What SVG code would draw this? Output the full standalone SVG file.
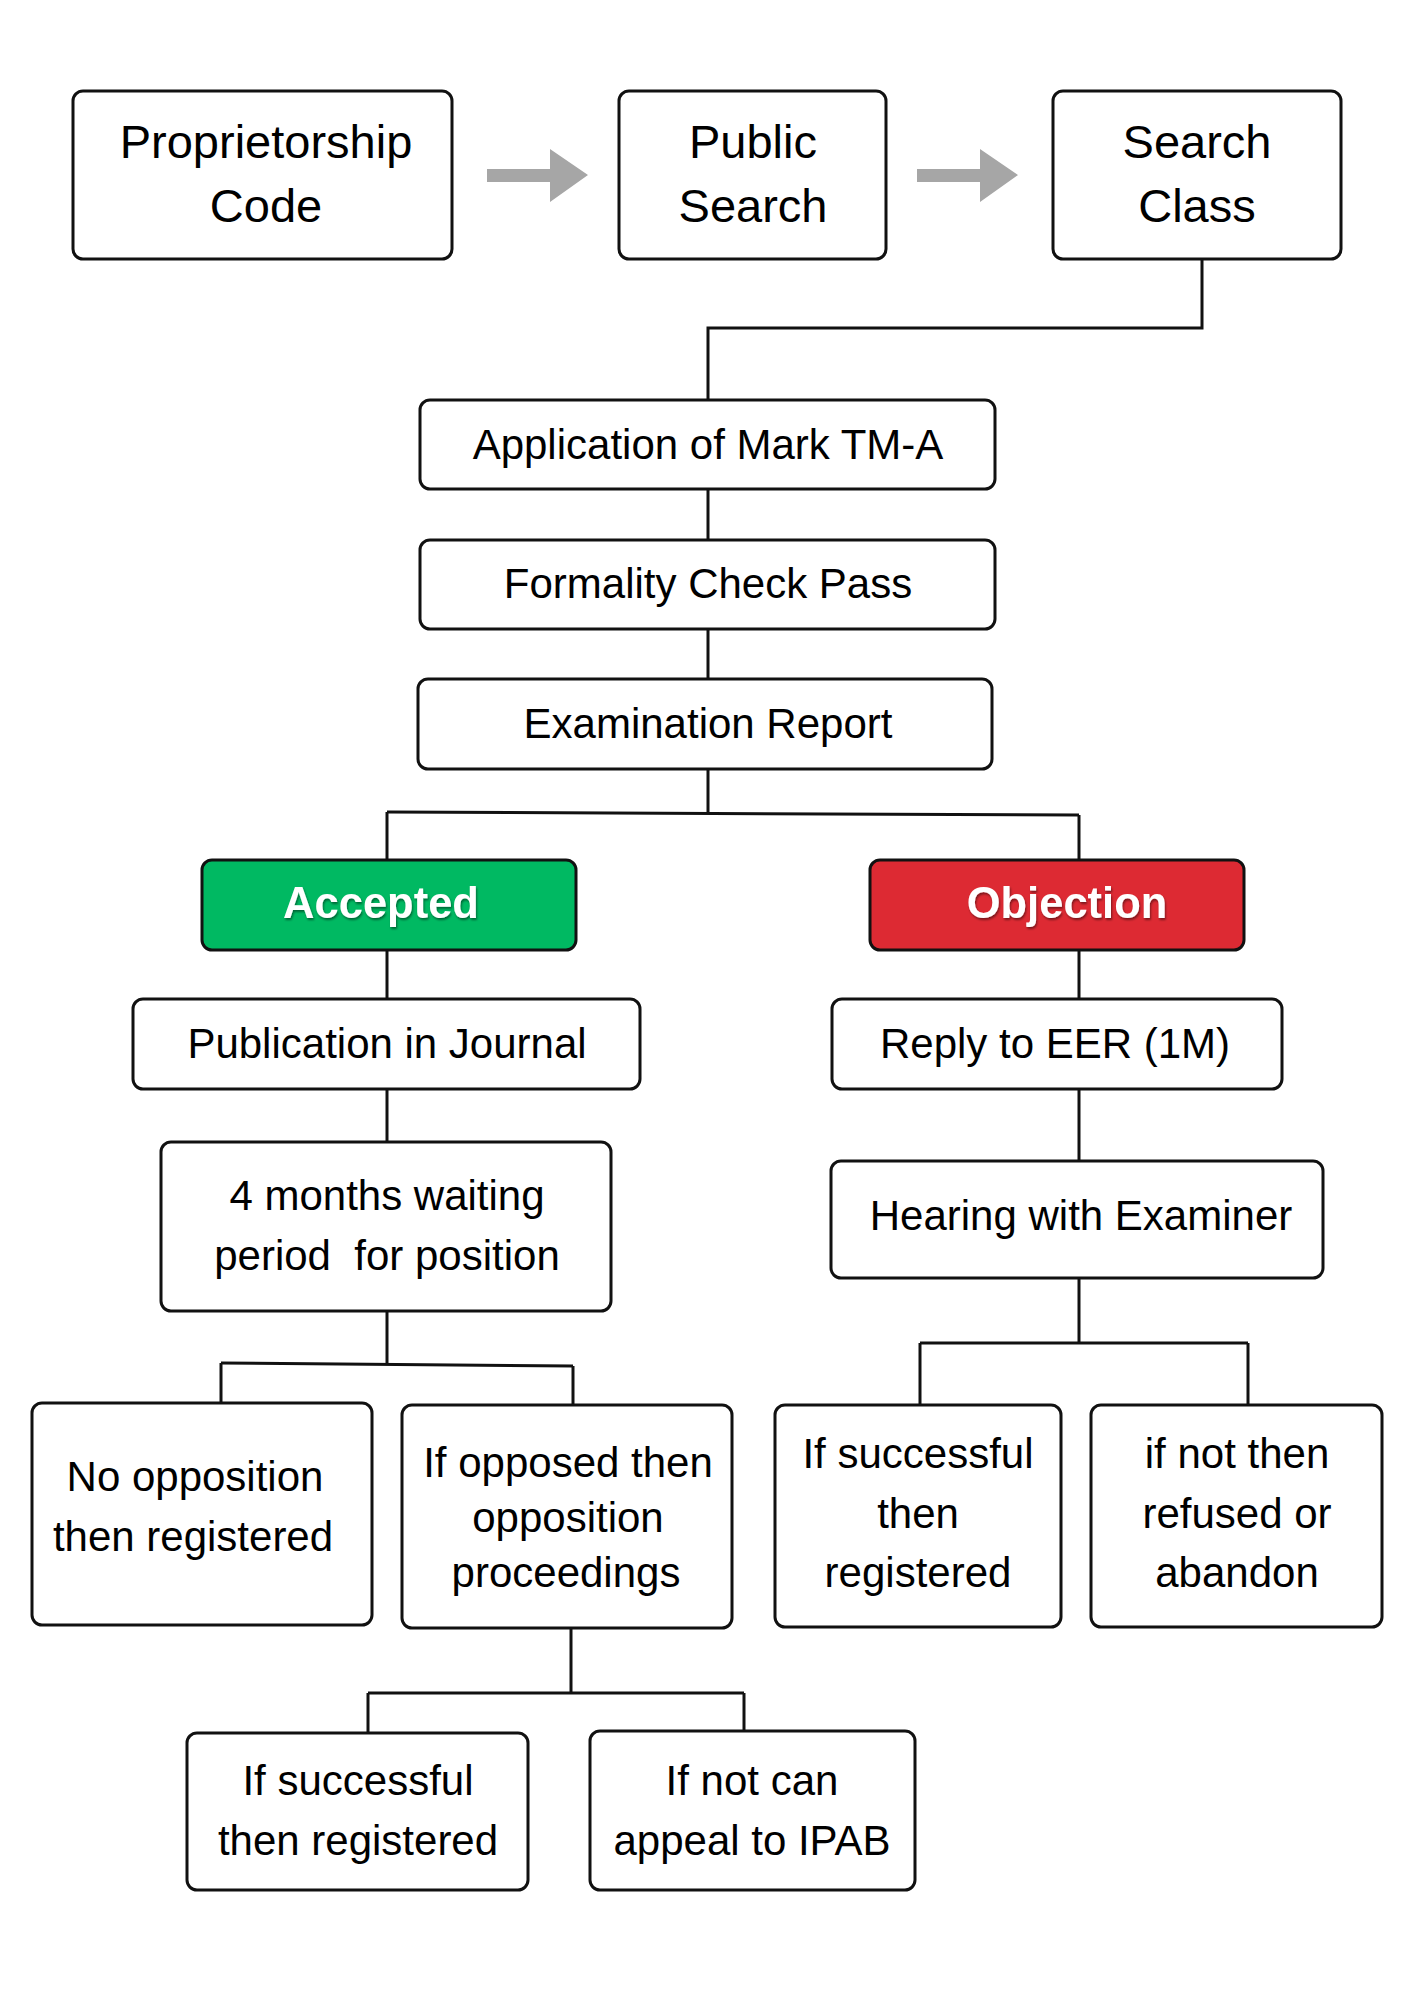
<svg xmlns="http://www.w3.org/2000/svg" width="1414" height="2000" viewBox="0 0 1414 2000">
<defs>
<style>
.box{fill:#fff;stroke:#111;stroke-width:3}
.t{font-family:"Liberation Sans",Arial,sans-serif;font-size:42px;fill:#000;text-anchor:middle;white-space:pre}
.big{font-size:47px}
.w{font-weight:bold;fill:#fff;font-size:43.5px}
.con{fill:none;stroke:#111;stroke-width:3}
.arr{fill:#a6a6a6}
</style>
<filter id="sh" x="-10%" y="-20%" width="120%" height="150%">
<feDropShadow dx="1" dy="2" stdDeviation="1.2" flood-color="#000" flood-opacity="0.45"/>
</filter>
<polygon id="arrow" points="487,169 550,169 550,149 588,175 550,202 550,182 487,182"/>
</defs>
<rect width="1414" height="2000" fill="#fff"/>

<g id="connectors">
<use href="#arrow" class="arr"/>
<use href="#arrow" class="arr" transform="translate(430,0)"/>
<path class="con" d="M1202,259 V328 H708 V400"/>
<path class="con" d="M708,489 V540"/>
<path class="con" d="M708,629 V679"/>
<path class="con" d="M708,769 V813"/>
<path class="con" d="M387,812 L1079,815"/>
<path class="con" d="M387,812 V860"/>
<path class="con" d="M1079,815 V860"/>
<path class="con" d="M387,950 V999"/>
<path class="con" d="M387,1089 V1142"/>
<path class="con" d="M387,1311 V1364"/>
<path class="con" d="M221,1363 L573,1366"/>
<path class="con" d="M221,1363 V1403"/>
<path class="con" d="M573,1366 V1405"/>
<path class="con" d="M1079,950 V999"/>
<path class="con" d="M1079,1089 V1161"/>
<path class="con" d="M1079,1278 V1343"/>
<path class="con" d="M920,1343 H1248"/>
<path class="con" d="M920,1343 V1405"/>
<path class="con" d="M1248,1343 V1405"/>
<path class="con" d="M571,1628 V1693"/>
<path class="con" d="M368,1693 H744"/>
<path class="con" d="M368,1693 V1733"/>
<path class="con" d="M744,1693 V1731"/>
</g>

<g id="proprietorship">
<rect class="box" x="73" y="91" width="379" height="168" rx="10"/>
<text class="t big" x="266" y="158">Proprietorship</text>
<text class="t big" x="266" y="222">Code</text>
</g>
<g id="public-search">
<rect class="box" x="619" y="91" width="267" height="168" rx="10"/>
<text class="t big" x="753" y="158">Public</text>
<text class="t big" x="753" y="222">Search</text>
</g>
<g id="search-class">
<rect class="box" x="1053" y="91" width="288" height="168" rx="10"/>
<text class="t big" x="1197" y="158">Search</text>
<text class="t big" x="1197" y="222">Class</text>
</g>
<g id="application">
<rect class="box" x="420" y="400" width="575" height="89" rx="10"/>
<text class="t" x="708" y="459">Application of Mark TM-A</text>
</g>
<g id="formality">
<rect class="box" x="420" y="540" width="575" height="89" rx="10"/>
<text class="t" x="708" y="598">Formality Check Pass</text>
</g>
<g id="examination">
<rect class="box" x="418" y="679" width="574" height="90" rx="10"/>
<text class="t" x="708" y="738">Examination Report</text>
</g>
<g id="accepted">
<rect x="202" y="860" width="374" height="90" rx="10" fill="#00b962" stroke="#111" stroke-width="3"/>
<text class="t w" x="381" y="918" filter="url(#sh)">Accepted</text>
</g>
<g id="objection">
<rect x="870" y="860" width="374" height="90" rx="10" fill="#dd2a33" stroke="#111" stroke-width="3"/>
<text class="t w" x="1067" y="918" filter="url(#sh)">Objection</text>
</g>
<g id="publication">
<rect class="box" x="133" y="999" width="507" height="90" rx="10"/>
<text class="t" x="387" y="1058">Publication in Journal</text>
</g>
<g id="reply">
<rect class="box" x="832" y="999" width="450" height="90" rx="10"/>
<text class="t" x="1055" y="1058">Reply to EER (1M)</text>
</g>
<g id="waiting">
<rect class="box" x="161" y="1142" width="450" height="169" rx="10"/>
<text class="t" x="387" y="1210">4 months waiting</text>
<text class="t" x="387" y="1270">period  for position</text>
</g>
<g id="hearing">
<rect class="box" x="831" y="1161" width="492" height="117" rx="10"/>
<text class="t" x="1081" y="1230">Hearing with Examiner</text>
</g>
<g id="no-opposition">
<rect class="box" x="32" y="1403" width="340" height="222" rx="10"/>
<text class="t" x="195" y="1491">No opposition</text>
<text class="t" x="193" y="1551">then registered</text>
</g>
<g id="if-opposed">
<rect class="box" x="402" y="1405" width="330" height="223" rx="10"/>
<text class="t" x="568" y="1477">If opposed then</text>
<text class="t" x="568" y="1532">opposition</text>
<text class="t" x="566" y="1587">proceedings</text>
</g>
<g id="if-successful-right">
<rect class="box" x="775" y="1405" width="286" height="222" rx="10"/>
<text class="t" x="918" y="1468">If successful</text>
<text class="t" x="918" y="1528">then</text>
<text class="t" x="918" y="1587">registered</text>
</g>
<g id="if-not-then">
<rect class="box" x="1091" y="1405" width="291" height="222" rx="10"/>
<text class="t" x="1237" y="1468">if not then</text>
<text class="t" x="1237" y="1528">refused or</text>
<text class="t" x="1237" y="1587">abandon</text>
</g>
<g id="if-successful-bottom">
<rect class="box" x="187" y="1733" width="341" height="157" rx="10"/>
<text class="t" x="358" y="1795">If successful</text>
<text class="t" x="358" y="1855">then registered</text>
</g>
<g id="appeal">
<rect class="box" x="590" y="1731" width="325" height="159" rx="10"/>
<text class="t" x="752" y="1795">If not can</text>
<text class="t" x="752" y="1855">appeal to IPAB</text>
</g>
</svg>
